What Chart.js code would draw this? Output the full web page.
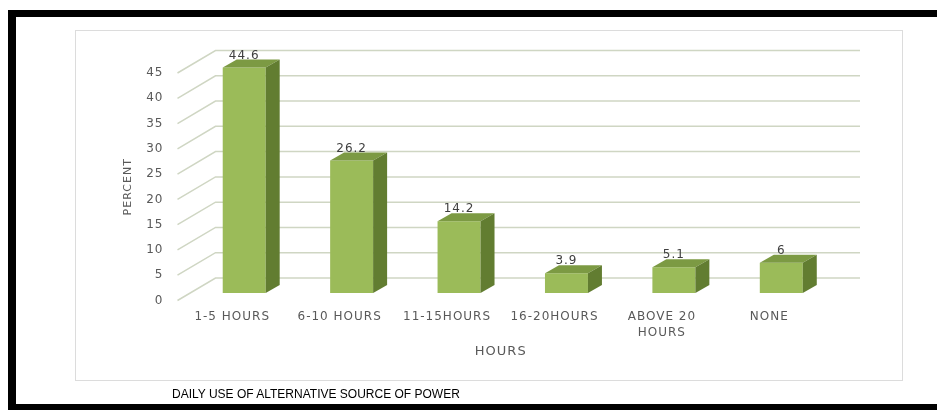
<!DOCTYPE html>
<html>
<head>
<meta charset="utf-8">
<title>Daily use of alternative source of power</title>
<script src="https://cdn.jsdelivr.net/npm/chart.js@4.4.1/dist/chart.umd.min.js"></script>
<style>
    html, body { margin: 0; padding: 0; background: #fff; }
    #wrap { position: relative; width: 937px; height: 410px; overflow: hidden; }
    .edge { position: absolute; background: #000; }
    #frame { position: absolute; left: 75px; top: 30px; width: 826px; height: 349px; border: 1px solid #dcdcdc; }
    #caption { position: absolute; left: 172px; top: 387px; font: 12px "Liberation Sans", Arial, sans-serif; color: #000; white-space: nowrap; }
    canvas { position: absolute; left: 0; top: 0; }
</style>
</head>
<body>
<div id="wrap">
    <div id="frame"></div>
    <canvas id="hours-chart" width="937" height="410"></canvas>
    <div class="edge" style="left:8px; top:10px; width:929px; height:7px;"></div>
    <div class="edge" style="left:8px; top:10px; width:8px; height:400px;"></div>
    <div class="edge" style="left:8px; top:404px; width:929px; height:6px;"></div>
    <div id="caption">DAILY USE OF ALTERNATIVE SOURCE OF POWER</div>
</div>
<script>
// chart data
const hourGroups = ['1-5 HOURS', '6-10 HOURS', '11-15HOURS', '16-20HOURS', ['ABOVE 20', 'HOURS'], 'NONE'];
const percentValues = [44.6, 26.2, 14.2, 3.9, 5.1, 6];
const percentTicks = [0, 5, 10, 15, 20, 25, 30, 35, 40, 45];

document.addEventListener('DOMContentLoaded', () => {
    const ctx = document.getElementById('hours-chart').getContext('2d');

    // fake 3d: back wall offset, bar offset and bar depth
    const wallDX = 37, wallDY = -22.5;
    const barShiftX = 12, barShiftY = -7.5;
    const faceDX = 14, faceDY = -8;

    const depthPlugin = {
        id: 'depth',
        beforeDraw(chart) {
            chart.ctx.letterSpacing = '1px';
        },
        beforeDatasetsDraw(chart) {
            const c = chart.ctx;
            const area = chart.chartArea;
            const yScale = chart.scales.y;

            //side wall and back wall grid lines
            c.save();
            c.strokeStyle = '#cfd6c3';
            c.lineWidth = 1.5;
            yScale.ticks.forEach(t => {
                const y = yScale.getPixelForValue(t.value);
                c.beginPath();
                c.moveTo(area.left - 1, y);
                c.lineTo(area.left + wallDX, y + wallDY);
                c.lineTo(area.right + wallDX, y + wallDY);
                c.stroke();
            });
            c.restore();

            c.save();
            c.translate(barShiftX, barShiftY);
        },
        afterDatasetsDraw(chart) {
            const c = chart.ctx;
            const meta = chart.getDatasetMeta(0);
            meta.data.forEach((bar, i) => {
                const left = bar.x - bar.width / 2;
                const right = bar.x + bar.width / 2;

                //top face
                c.fillStyle = '#7c9a43';
                c.beginPath();
                c.moveTo(left, bar.y);
                c.lineTo(left + faceDX, bar.y + faceDY);
                c.lineTo(right + faceDX, bar.y + faceDY);
                c.lineTo(right, bar.y);
                c.closePath();
                c.fill();

                //side face
                c.fillStyle = '#627d31';
                c.beginPath();
                c.moveTo(right, bar.y);
                c.lineTo(right + faceDX, bar.y + faceDY);
                c.lineTo(right + faceDX, bar.base + faceDY);
                c.lineTo(right, bar.base);
                c.closePath();
                c.fill();

                //value label
                c.fillStyle = '#404040';
                c.font = '12px "DejaVu Sans"';
                c.textAlign = 'center';
                c.textBaseline = 'middle';
                c.fillText(String(percentValues[i]), bar.x, bar.y - 12);
            });
            c.restore();
        }
    };

    Chart.defaults.font.family = '"DejaVu Sans", sans-serif';
    Chart.defaults.font.size = 12;
    Chart.defaults.color = '#595959';

    new Chart(ctx, {
        type: 'bar',
        data: {
            labels: hourGroups,
            datasets: [{
                data: percentValues,
                backgroundColor: '#9bbb59',
                borderWidth: 0,
                categoryPercentage: 0.8,
                barPercentage: 0.5,
                clip: false
            }]
        },
        options: {
            responsive: false,
            animation: false,
            layout: {
                padding: { left: 122, top: 73, right: 114, bottom: 51 }
            },
            plugins: {
                legend: { display: false },
                tooltip: { enabled: false }
            },
            scales: {
                x: {
                    grid: { display: false, drawTicks: false },
                    border: { display: false },
                    ticks: {
                        padding: 8,
                        maxRotation: 0,
                        autoSkip: false,
                        font: { size: 12, lineHeight: 1.35 }
                    },
                    title: {
                        display: true,
                        text: 'HOURS',
                        font: { size: 13 },
                        padding: { top: 0, bottom: 0 }
                    },
                    afterFit: axis => { axis.height = 58.5; }
                },
                y: {
                    min: 0,
                    max: 45,
                    grid: { display: false, drawTicks: false },
                    border: { display: false },
                    ticks: { padding: 15 },
                    afterBuildTicks: axis => {
                        axis.ticks = percentTicks.map(v => ({ value: v }));
                    },
                    title: {
                        display: true,
                        text: 'PERCENT',
                        font: { size: 11 },
                        padding: { top: 0, bottom: 0 }
                    },
                    afterFit: axis => { axis.width = 56.5; }
                }
            }
        },
        plugins: [depthPlugin]
    });
});
</script>
</body>
</html>
